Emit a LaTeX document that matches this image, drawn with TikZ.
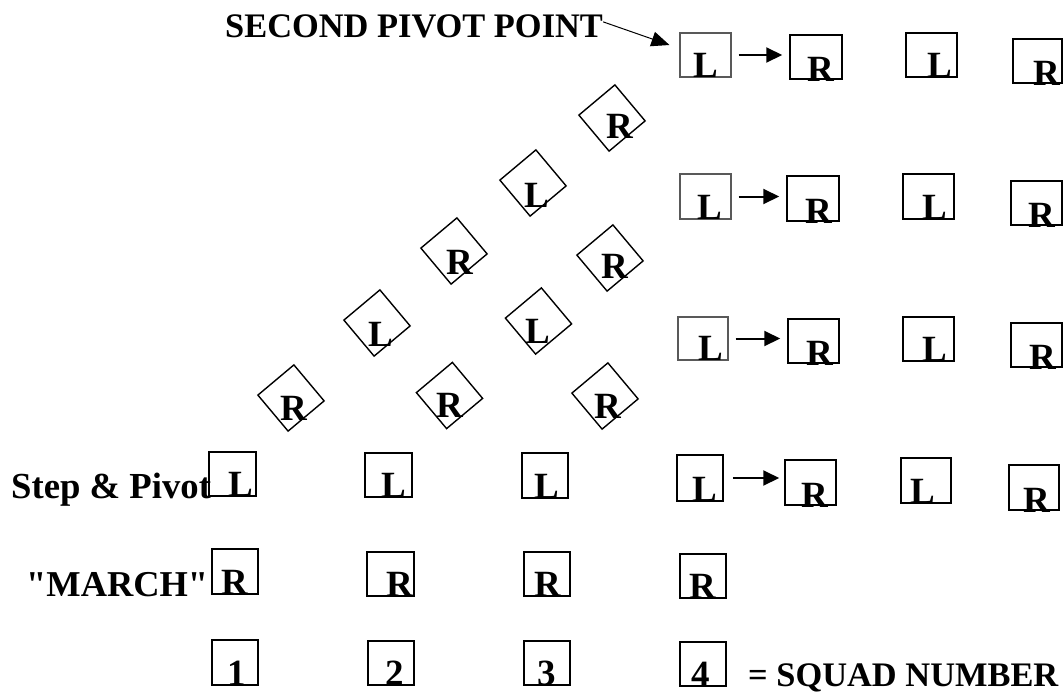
\documentclass[tikz,border=0pt]{standalone}
\usepackage{fontspec}
\setmainfont{Liberation Serif}
\usetikzlibrary{arrows.meta}
\tikzset{
  boxst/.style={draw=black, line width=1.5pt, inner sep=0pt, rectangle},
  greybox/.style={draw=black!65, line width=1.1pt},
  diast/.style={draw=black, line width=1.4pt, rectangle, rotate=40, minimum size=47, inner sep=0pt},
  lett/.style={font=\fontsize{37}{37}\selectfont\bfseries, inner sep=0pt, anchor=base},
  lbl/.style={inner sep=0pt, anchor=base west},
  arr/.style={line width=2pt, -{Triangle[length=16pt,width=15pt]}, shorten <=7pt, shorten >=7pt},
  tarr/.style={line width=1pt, -{Triangle[length=18pt,width=15pt]}}
}
% [style]{name}{x1}{y1}{x2}{y2}{letter}{dx}{dy}
\newcommand\mybox[9][]{%
  \node[boxst,#1, minimum width={(#5)-(#3)}, minimum height={(#6)-(#4)}] (#2) at ({((#3)+(#5))/2},{((#4)+(#6))/2}) {};
  \node[lett] (#2t) at ([xshift=#8pt,yshift=-#9pt]#2.south) {#7};
}
% {name}{cx}{cy}{letter}{dx}{dy}
\newcommand\mydia[6]{%
  \node[diast] (#1) at (#2,#3) {};
  \node[lett] (#1t) at ([xshift=#5pt,yshift=-#6pt]#1.center) {#4};
}
\begin{document}
\begin{tikzpicture}[x=1pt,y=-1pt]
\useasboundingbox (0,0) rectangle (1063,694);

% labels
\node[lbl, font=\fontsize{34.4}{34.4}\selectfont\bfseries] (title) at (225,37) {SECOND PIVOT POINT};
\node[lbl, font=\fontsize{36.7}{36.7}\selectfont\bfseries] (step) at (11,498) {Step \& Pivot};
\node[lbl, font=\fontsize{36.4}{36.4}\selectfont\bfseries] (march) at (26,596) {\textquotedbl MARCH\textquotedbl};
\node[lbl, font=\fontsize{34.4}{34.4}\selectfont\bfseries] (squad) at (748,686) {= SQUAD NUMBER};

% top grid
\mybox[greybox]{A1}{680}{33}{731}{77}{L}{0}{0}
\mybox{A2}{790}{35}{842}{79}{R}{5}{2}
\mybox{A3}{906}{33}{957}{77}{L}{8}{0}
\mybox{A4}{1013}{39}{1062}{83}{R}{9}{2}

\mybox[greybox]{B1}{680}{174}{731}{219}{L}{4}{0}
\mybox{B2}{787}{176}{839}{221}{R}{6}{2}
\mybox{B3}{903}{174}{954}{219}{L}{6}{0}
\mybox{B4}{1011}{181}{1062}{225}{R}{5}{2}

\mybox[greybox]{C1}{678}{317}{728}{360}{L}{8}{0}
\mybox{C2}{788}{319}{839}{363}{R}{6}{2}
\mybox{C3}{903}{317}{954}{361}{L}{6}{0}
\mybox{C4}{1011}{323}{1062}{367}{R}{6}{2}

% step & pivot row
\mybox{D1}{209}{452}{256}{496}{L}{8}{0}
\mybox{D2}{365}{453}{412}{497}{L}{5}{0}
\mybox{D3}{522}{453}{568}{498}{L}{2}{0}
\mybox{D4}{677}{455}{723}{501}{L}{5}{0}
\mybox{D5}{785}{460}{836}{505}{R}{4}{2}
\mybox{D6}{901}{458}{951}{503}{L}{-3}{0}
\mybox{D7}{1009}{465}{1059}{510}{R}{3}{2}

% march row
\mybox{E1}{212}{549}{258}{594}{R}{0}{0}
\mybox{E2}{367}{552}{414}{596}{R}{9}{0}
\mybox{E3}{524}{552}{570}{596}{R}{1}{0}
\mybox{E4}{680}{554}{726}{598}{R}{0}{0}

% squad numbers
\mybox{F1}{212}{640}{258}{685}{1}{2}{0}
\mybox{F2}{368}{641}{414}{685}{2}{4}{0}
\mybox{F3}{524}{641}{570}{685}{3}{0}{0}
\mybox{F4}{680}{642}{726}{686}{4}{-2}{0}

% diamonds
\mydia{G1}{612}{118}{R}{8}{20}
\mydia{G2}{533}{183}{L}{4}{24}
\mydia{G3}{454}{251}{R}{6}{23}
\mydia{G4}{610}{258}{R}{5}{20}
\mydia{G5}{377}{323}{L}{4}{23}
\mydia{G6}{538.5}{321}{L}{-1}{22}
\mydia{G7}{291}{398}{R}{3}{22}
\mydia{G8}{449.5}{395.5}{R}{0}{22}
\mydia{G9}{605}{396}{R}{3}{22}

% arrows
\draw[tarr] ([yshift=4pt]title.east) -- ([xshift=-10pt,yshift=10pt]A1.west);
\draw[arr] (A1.east) -- (A1.east -| A2.west);
\draw[arr] (B1.east) -- (B1.east -| B2.west);
\draw[arr] (C1.east) -- (C1.east -| C2.west);
\draw[arr, shorten <=9pt, shorten >=5pt] (D4.east) -- (D4.east -| D5.west);
\end{tikzpicture}
\end{document}
